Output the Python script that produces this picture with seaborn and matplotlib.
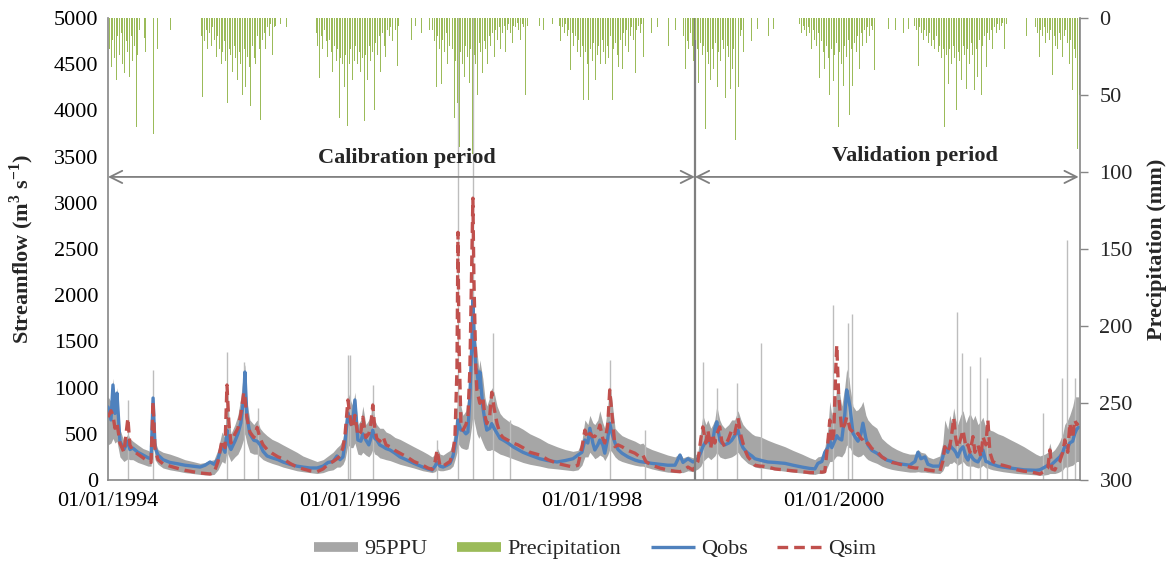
import matplotlib
matplotlib.use("Agg")
import matplotlib.pyplot as plt
from matplotlib.lines import Line2D
import pandas as pd
import seaborn as sns

# ---------------- data (x = days since 01/01/1994) ----------------
flow_day = [0, 9, 15, 21, 27, 36, 48, 60, 66, 75,
            90, 106, 121, 130, 136, 142, 151, 166, 187, 211,
            232, 256, 278, 293, 308, 320, 332, 344, 353, 359,
            365, 371, 383, 392, 401, 410, 413, 419, 428, 440,
            450, 459, 468, 480, 495, 513, 528, 549, 570, 588,
            609, 631, 649, 664, 679, 691, 700, 709, 715, 724,
            733, 739, 745, 754, 763, 769, 778, 787, 793, 799,
            805, 811, 820, 830, 839, 851, 866, 881, 902, 923,
            950, 965, 978, 987, 993, 1002, 1011, 1023, 1032, 1041,
            1047, 1053, 1056, 1059, 1065, 1071, 1080, 1086, 1092, 1098,
            1101, 1104, 1110, 1113, 1119, 1122, 1131, 1137, 1143, 1152,
            1158, 1165, 1174, 1183, 1192, 1207, 1222, 1237, 1252, 1273,
            1303, 1327, 1355, 1379, 1403, 1418, 1430, 1439, 1448, 1454,
            1463, 1469, 1478, 1484, 1493, 1499, 1508, 1514, 1521, 1530,
            1539, 1551, 1569, 1590, 1605, 1614, 1623, 1641, 1665, 1689,
            1711, 1726, 1735, 1750, 1765, 1780, 1789, 1795, 1804, 1810,
            1819, 1825, 1831, 1837, 1846, 1852, 1861, 1873, 1882, 1891,
            1901, 1910, 1916, 1925, 1931, 1943, 1952, 1967, 1973, 1991,
            2012, 2043, 2067, 2094, 2118, 2133, 2142, 2154, 2163, 2172,
            2178, 2184, 2190, 2196, 2199, 2205, 2214, 2223, 2229, 2236,
            2239, 2248, 2257, 2263, 2272, 2278, 2287, 2293, 2305, 2320,
            2335, 2350, 2365, 2380, 2399, 2419, 2435, 2444, 2453, 2465,
            2474, 2489, 2510, 2519, 2525, 2534, 2540, 2546, 2552, 2558,
            2564, 2573, 2580, 2589, 2595, 2601, 2610, 2616, 2625, 2634,
            2640, 2649, 2655, 2661, 2670, 2685, 2700, 2721, 2743, 2764,
            2782, 2800, 2812, 2827, 2836, 2842, 2848, 2857, 2866, 2872,
            2881, 2887, 2896, 2902, 2911, 2917, 2923, 2929]

q_obs = [790, 650, 1028, 720, 940, 420, 330, 420, 330, 345,
         300, 270, 240, 230, 887, 350, 270, 220, 190, 175,
         160, 150, 140, 160, 195, 170, 230, 380, 300, 540,
         380, 330, 420, 500, 620, 900, 1168, 700, 500, 430,
         420, 380, 310, 260, 240, 220, 195, 170, 150, 140,
         130, 130, 150, 190, 200, 260, 220, 250, 400, 725,
         600, 650, 866, 433, 420, 500, 433, 380, 450, 540,
         450, 433, 380, 360, 340, 325, 290, 250, 216, 180,
         140, 120, 108, 150, 195, 150, 140, 160, 180, 260,
         380, 500, 650, 600, 540, 540, 500, 520, 900, 1500,
         1950, 1600, 1200, 1190, 1000, 1170, 790, 650, 540, 560,
         610, 560, 505, 450, 433, 400, 360, 330, 300, 270,
         230, 210, 195, 210, 230, 270, 300, 433, 400, 560,
         400, 325, 380, 433, 380, 290, 450, 615, 500, 400,
         330, 290, 250, 216, 200, 195, 190, 180, 170, 160,
         160, 270, 190, 230, 195, 230, 300, 360, 420, 470,
         380, 430, 560, 630, 430, 400, 380, 400, 430, 480,
         540, 400, 350, 310, 290, 260, 230, 215, 210, 195,
         190, 180, 160, 140, 125, 120, 180, 200, 300, 350,
         433, 350, 400, 450, 480, 450, 433, 700, 975, 850,
         790, 505, 450, 420, 500, 615, 450, 380, 320, 290,
         250, 216, 200, 180, 170, 160, 200, 300, 230, 250,
         170, 150, 150, 250, 355, 300, 380, 350, 330, 300,
         250, 330, 360, 250, 216, 280, 230, 210, 195, 250,
         325, 200, 195, 180, 170, 150, 140, 130, 120, 110,
         108, 105, 110, 140, 160, 150, 170, 200, 230, 250,
         300, 370, 350, 400, 420, 500, 550, 570]

q_sim = [680, 750, 700, 560, 620, 400, 300, 670, 380, 320,
         280, 240, 200, 190, 850, 320, 220, 175, 150, 125,
         105, 90, 76, 70, 65, 80, 200, 430, 350, 1028,
         600, 400, 500, 560, 720, 950, 900, 680, 520, 460,
         570, 450, 380, 330, 290, 250, 230, 180, 140, 120,
         100, 90, 120, 170, 200, 230, 260, 350, 480, 866,
         620, 560, 700, 480, 520, 680, 460, 500, 600, 812,
         560, 450, 420, 470, 380, 360, 320, 290, 250, 200,
         160, 130, 115, 200, 325, 150, 150, 180, 200, 300,
         470, 1200, 2680, 1500, 600, 540, 600, 680, 1200, 2400,
         3050, 2200, 1200, 975, 880, 830, 900, 700, 610, 700,
         950, 780, 610, 500, 460, 430, 400, 380, 350, 300,
         270, 220, 180, 160, 140, 160, 350, 540, 450, 505,
         470, 470, 520, 595, 450, 400, 600, 975, 700, 360,
         380, 360, 320, 290, 250, 270, 200, 160, 130, 108,
         95, 90, 100, 140, 108, 200, 450, 575, 400, 540,
         350, 500, 400, 500, 575, 420, 360, 450, 540, 500,
         670, 480, 400, 300, 250, 200, 160, 150, 150, 140,
         120, 108, 100, 90, 80, 80, 90, 85, 90, 400,
         650, 400, 500, 1200, 1460, 900, 540, 600, 680, 600,
         550, 520, 480, 505, 450, 433, 380, 400, 340, 310,
         250, 216, 190, 180, 160, 140, 130, 130, 120, 115,
         108, 100, 90, 200, 360, 300, 360, 500, 670, 450,
         350, 450, 540, 350, 380, 300, 470, 300, 380, 250,
         470, 380, 650, 300, 200, 170, 160, 140, 110, 95,
         90, 75, 65, 100, 130, 325, 120, 108, 180, 200,
         300, 433, 300, 615, 450, 650, 600, 615]

ppu_low = [380, 400, 450, 400, 420, 250, 200, 230, 220, 220,
           190, 170, 150, 150, 500, 220, 170, 130, 110, 95,
           80, 70, 60, 55, 55, 60, 110, 200, 180, 300,
           250, 200, 250, 280, 350, 450, 500, 400, 300, 280,
           280, 250, 220, 200, 180, 160, 140, 120, 100, 90,
           80, 70, 80, 100, 110, 140, 140, 170, 220, 380,
           350, 350, 400, 280, 270, 300, 270, 250, 280, 330,
           280, 270, 240, 230, 220, 210, 190, 170, 150, 130,
           100, 90, 80, 90, 110, 100, 100, 110, 120, 150,
           220, 300, 400, 380, 350, 340, 330, 340, 450, 600,
           700, 650, 550, 500, 450, 480, 400, 350, 320, 320,
           330, 320, 300, 280, 270, 250, 230, 210, 190, 170,
           150, 130, 120, 110, 100, 110, 160, 250, 250, 300,
           260, 230, 250, 270, 250, 210, 270, 330, 300, 250,
           220, 200, 180, 160, 150, 150, 140, 120, 100, 85,
           80, 80, 80, 100, 90, 120, 150, 200, 230, 250,
           220, 240, 260, 300, 250, 240, 230, 240, 250, 270,
           300, 250, 230, 200, 180, 160, 140, 130, 130, 120,
           110, 95, 85, 75, 65, 60, 70, 70, 80, 150,
           200, 200, 220, 250, 260, 260, 250, 300, 380, 350,
           350, 280, 260, 250, 260, 280, 240, 220, 200, 180,
           150, 130, 115, 105, 95, 85, 85, 90, 85, 85,
           80, 75, 70, 100, 150, 150, 180, 180, 200, 180,
           160, 180, 200, 160, 150, 150, 150, 140, 130, 140,
           160, 130, 130, 120, 110, 100, 90, 80, 70, 65,
           60, 55, 50, 55, 60, 70, 70, 70, 80, 90,
           110, 140, 140, 150, 160, 180, 200, 200]

ppu_high = [900, 850, 1100, 800, 1000, 550, 420, 500, 450, 420,
            380, 340, 320, 300, 950, 420, 330, 300, 280, 250,
            220, 200, 180, 190, 210, 220, 330, 520, 450, 1100,
            700, 500, 600, 700, 900, 1200, 1250, 850, 650, 600,
            650, 560, 520, 480, 440, 410, 380, 340, 300, 260,
            230, 200, 220, 260, 300, 350, 380, 450, 600, 950,
            850, 800, 950, 600, 650, 800, 600, 650, 700, 880,
            650, 600, 560, 560, 520, 500, 460, 440, 400, 360,
            310, 280, 250, 280, 350, 280, 270, 300, 320, 420,
            600, 800, 1000, 900, 800, 700, 750, 900, 1300, 1800,
            2100, 1900, 1500, 1400, 1200, 1300, 1100, 900, 800, 900,
            1000, 950, 800, 720, 680, 640, 600, 580, 550, 500,
            450, 400, 360, 330, 310, 320, 420, 650, 600, 700,
            620, 600, 650, 750, 620, 560, 800, 1050, 850, 560,
            520, 480, 450, 420, 390, 400, 360, 330, 300, 270,
            250, 290, 240, 260, 240, 300, 550, 700, 600, 650,
            560, 600, 650, 800, 650, 600, 560, 600, 650, 650,
            750, 650, 600, 560, 540, 500, 480, 470, 460, 430,
            400, 360, 320, 280, 240, 220, 250, 260, 350, 550,
            850, 700, 800, 900, 1000, 1000, 800, 1000, 1200, 1100,
            1000, 800, 750, 760, 800, 850, 700, 650, 600, 560,
            450, 400, 360, 330, 300, 280, 280, 330, 300, 290,
            250, 230, 260, 400, 650, 550, 700, 620, 780, 650,
            600, 700, 750, 620, 680, 720, 650, 700, 600, 640,
            680, 560, 620, 540, 530, 500, 480, 440, 400, 360,
            320, 280, 260, 280, 300, 400, 300, 330, 380, 420,
            500, 600, 650, 700, 800, 900, 900, 900]

# thin upper-bound spikes of the 95PPU band (day, streamflow)
ppu_spike_day = [60, 136, 359, 410, 453, 724, 730, 799, 993, 1056, 1101, 1162,
                 1213, 1514, 1620, 1795, 1837, 1898, 1970, 2187, 2233, 2245,
                 2561, 2577, 2601, 2631, 2652, 2821, 2878, 2893, 2917]
ppu_spike_top = [866, 1190, 1390, 1280, 780, 1350, 1350, 1030, 430, 5400, 5400, 1590,
                 650, 1300, 540, 1280, 1000, 1050, 1480, 1890, 1700, 1800,
                 1820, 1370, 1230, 1330, 1100, 725, 1100, 2600, 1100]

# precipitation (mm), wet seasons sampled every PRECIP_STEP days from each start day
PRECIP_STEP = 5
season_start = [0, 281, 628, 980, 1361, 1738, 2088, 2435, 2800]
precip_s1 = [52, 20, 32, 14, 26, 40, 12, 24, 10, 30, 36, 15, 22, 38, 12, 28, 18, 71, 24, 8]
precip_s2 = [12, 51, 15, 8, 20, 10, 18, 6, 14, 25, 12, 20, 30, 22, 15, 28, 55, 20, 24, 35,
             18, 26, 40, 22, 30, 50, 20, 45, 25, 32, 57, 18, 26, 30, 12, 20, 66, 14, 10, 20,
             6, 12, 4, 24, 6, 5]
precip_s3 = [10, 18, 39, 12, 20, 8, 15, 25, 14, 22, 35, 18, 28, 20, 65, 26, 30, 45, 24, 70,
             30, 20, 40, 28, 18, 30, 22, 35, 26, 67, 24, 40, 18, 28, 22, 60, 16, 24, 12, 35,
             10, 18, 25, 8, 12, 6, 15, 4, 8, 31, 5]
precip_s4 = [8, 15, 45, 12, 20, 43, 14, 22, 10, 30, 18, 26, 20, 65, 28, 55, 84, 22, 30, 38,
             18, 25, 42, 20, 88, 24, 30, 50, 16, 22, 36, 15, 20, 30, 12, 18, 10, 25, 8, 14,
             6, 20, 10, 5, 22, 8, 4, 10, 16, 5, 6, 3, 8, 14, 4, 6, 50, 5]
precip_s5 = [5, 15, 6, 10, 4, 12, 8, 34, 10, 18, 12, 22, 14, 25, 18, 53, 22, 30, 53, 20,
             28, 16, 40, 24, 18, 30, 14, 22, 30, 18, 26, 12, 53, 20, 16, 24, 32, 14, 33, 10,
             18, 8, 22, 12, 6, 14, 36, 8, 5, 10, 4, 25]
precip_s6 = [12, 33, 15, 20, 10, 18, 28, 14, 20, 42, 16, 24, 18, 72, 22, 30, 40, 20, 33, 16,
             45, 22, 28, 14, 20, 52, 18, 25, 46, 33, 20, 79, 18, 45, 12, 8, 22]
precip_s7 = [4, 10, 5, 8, 12, 6, 10, 20, 8, 14, 18, 10, 39, 15, 22, 33, 18, 26, 50, 20,
             41, 24, 16, 71, 22, 30, 44, 18, 25, 14, 63, 20, 44, 16, 22, 12, 33, 10, 18, 8,
             16, 6, 12, 5, 8, 34]
precip_s8 = [5, 8, 31, 6, 10, 14, 8, 12, 16, 10, 18, 14, 20, 12, 22, 18, 26, 20, 71, 24,
             43, 20, 30, 18, 26, 60, 22, 28, 40, 18, 24, 46, 20, 30, 16, 24, 47, 20, 38, 14,
             50, 18, 12, 32, 10, 14, 8, 20, 6, 10, 4, 8, 5, 3, 20, 4]
precip_s9 = [6, 10, 25, 8, 12, 6, 16, 10, 14, 8, 37, 12, 18, 20, 10, 14, 25, 12, 8, 16,
             30, 14, 47, 20, 26, 85, 50]
seasons_mm = [precip_s1, precip_s2, precip_s3, precip_s4, precip_s5,
              precip_s6, precip_s7, precip_s8, precip_s9]
isolated_day = [109, 113, 136, 148, 172, 190, 522, 540, 917, 928, 945, 969,
                1303, 1315, 1340, 1641, 1659, 1690, 1711, 1943, 1961, 1994, 2009,
                2356, 2377, 2401, 2416, 2773]
isolated_mm = [13, 22, 75, 20, 13, 8, 4, 6, 14, 5, 10, 8,
               5, 8, 4, 10, 6, 18, 8, 15, 7, 12, 7,
               7, 8, 10, 7, 12]

x_end = 2933
divider_day = 1771
tick_days = [0, 730, 1461, 2191]
tick_labels = ["01/01/1994", "01/01/1996", "01/01/1998", "01/01/2000"]

# ---------------- assemble ----------------
assert len(flow_day) == len(q_obs) == len(q_sim) == len(ppu_low) == len(ppu_high)
flow = pd.DataFrame({"day": flow_day, "Qobs": q_obs, "Qsim": q_sim,
                     "low": ppu_low, "high": ppu_high})
p_day, p_mm = [], []
for start, vals in zip(season_start, seasons_mm):
    for i, v in enumerate(vals):
        p_day.append(start + i * PRECIP_STEP)
        p_mm.append(v)
p_day += isolated_day
p_mm += isolated_mm
precip = pd.DataFrame({"day": p_day, "mm": p_mm})

# ---------------- style ----------------
sns.set_theme(style="white")
plt.rcParams['font.family'] = ['Liberation Serif', 'DejaVu Serif']
plt.rcParams['mathtext.fontset'] = 'custom'
plt.rcParams['mathtext.rm'] = 'Liberation Serif'
plt.rcParams['mathtext.bf'] = 'Liberation Serif:bold'

C_PPU = '#A6A6A6'
C_PR = '#9BBB59'
C_OBS = '#4F81BD'
C_SIM = '#C0504D'
C_AX = '#868686'
FS = 16
SIM_DASH = (0, (3.2, 1.8))

fig = plt.figure(figsize=(11.72, 5.63), dpi=100)
W, H = 1172, 563
ax = fig.add_axes([108 / W, 1 - 480 / H, (1080 - 108) / W, (480 - 18) / H])

ax.fill_between(flow["day"], flow["low"], flow["high"], color=C_PPU, lw=0, zorder=1)
ax.vlines(ppu_spike_day, 0, ppu_spike_top, color='#BDBDBD', lw=1.0, zorder=1)
sns.lineplot(data=flow, x="day", y="Qobs", ax=ax, color=C_OBS, lw=2.4, zorder=3)
sns.lineplot(data=flow, x="day", y="Qsim", ax=ax, color=C_SIM, lw=2.4,
             linestyle=SIM_DASH, zorder=4)

ax.set_xlim(0, x_end)
ax.set_ylim(0, 5000)
ax.set_yticks(range(0, 5001, 500))
ax.set_xticks(tick_days)
ax.set_xticklabels(tick_labels)
ax.set_xlabel("")
ax.set_ylabel("")
ax.tick_params(axis='both', labelsize=FS, length=0, colors='black')
ax.tick_params(axis='y', pad=7)
ax.tick_params(axis='x', pad=9)
for s in ['left', 'bottom']:
    ax.spines[s].set_color(C_AX)
    ax.spines[s].set_linewidth(1.2)
for s in ['top', 'right']:
    ax.spines[s].set_visible(False)

ax.axvline(divider_day, color='#7F7F7F', lw=1.6, zorder=5)
arrow_kw = dict(arrowstyle='<->', color='#7F7F7F', lw=1.3, shrinkA=0, shrinkB=0,
                mutation_scale=22)
ax.annotate('', xy=(0, 3280), xytext=(divider_day, 3280), arrowprops=arrow_kw)
ax.annotate('', xy=(divider_day, 3280), xytext=(x_end - 4, 3280), arrowprops=arrow_kw)
ax.text(902, 3480, 'Calibration period', ha='center', va='center',
        fontsize=FS, fontweight='bold')
ax.text(2435, 3510, 'Validation period', ha='center', va='center',
        fontsize=FS, fontweight='bold')

ax2 = ax.twinx()
ax2.bar(precip["day"], precip["mm"], width=3.0, color=C_PR, lw=0, align='center')
ax2.set_ylim(300, 0)
ax2.set_xlim(0, x_end)
ax2.set_yticks(range(0, 301, 50))
ax2.tick_params(axis='y', labelsize=FS, length=6, width=1, color=C_AX,
                direction='out', pad=8)
for s in ['left', 'top', 'bottom']:
    ax2.spines[s].set_visible(False)
ax2.spines['right'].set_color(C_AX)
ax2.spines['right'].set_linewidth(1.2)
ax2.grid(False)
ax.grid(False)

fig.text(22 / W, 1 - 249 / H, r'Streamflow (m$^{\mathbf{3}}$ s$^{\mathbf{-1}}$)',
         rotation=90, ha='center', va='center', fontsize=FS, fontweight='bold')
fig.text(1157 / W, 1 - 249 / H, 'Precipitation (mm)', rotation=90,
         ha='center', va='center', fontsize=FS, fontweight='bold')

handles = [Line2D([], [], color=C_PPU, lw=7, solid_capstyle='butt'),
           Line2D([], [], color=C_PR, lw=7, solid_capstyle='butt'),
           Line2D([], [], color=C_OBS, lw=2.4, solid_capstyle='butt'),
           Line2D([], [], color=C_SIM, lw=2.4, linestyle=SIM_DASH, dash_capstyle='butt')]
fig.legend(handles, ['95PPU', 'Precipitation', 'Qobs', 'Qsim'],
           loc='center', bbox_to_anchor=(595 / W, 1 - 549 / H), ncol=4,
           frameon=False, fontsize=FS, handlelength=2.0, columnspacing=1.3,
           handletextpad=0.3)

fig.savefig("out.png", dpi=100)
